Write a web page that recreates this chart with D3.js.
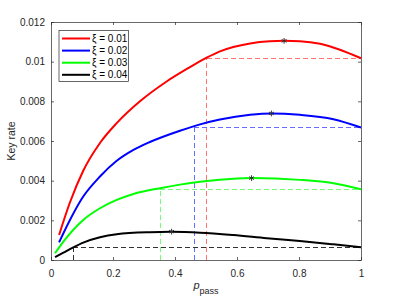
<!DOCTYPE html>
<html>
<head>
<meta charset="utf-8">
<script src="https://cdn.jsdelivr.net/npm/d3@7"></script>
<style>
  body { margin: 0; background: #fff; }
  svg { font-family: "Liberation Sans", Arial, sans-serif; }
  .tick text { font-size: 10px; fill: #262626; }
</style>
</head>
<body>
<svg id="chart" width="399" height="299"></svg>
<script>
// series: [p_pass, key rate]
const red = [[0.026,0.00126],[0.061,0.0029],[0.104,0.0045],[0.158,0.0059],[0.212,0.0069],[0.287,0.008],[0.373,0.009],[0.448,0.00972],[0.502,0.0102],[0.545,0.01052],[0.642,0.01092],[0.706,0.01103],[0.752,0.01105],[0.803,0.01103],[0.868,0.0109],[0.932,0.0106],[1,0.01017]];
const blue = [[0.026,0.00089],[0.04,0.00135],[0.104,0.0032],[0.158,0.00421],[0.212,0.005],[0.266,0.00555],[0.319,0.00595],[0.416,0.00652],[0.481,0.00684],[0.545,0.00708],[0.642,0.00732],[0.711,0.00739],[0.803,0.00732],[0.911,0.0071],[1,0.00668]];
const green = [[0.013,0.00034],[0.04,0.00093],[0.104,0.00202],[0.158,0.00261],[0.212,0.00303],[0.266,0.00333],[0.352,0.00362],[0.416,0.0038],[0.481,0.00395],[0.588,0.0041],[0.647,0.00413],[0.803,0.00404],[0.911,0.00387],[1,0.00357]];
const black = [[0.013,0.00014],[0.04,0.00037],[0.072,0.00064],[0.104,0.00088],[0.158,0.00115],[0.212,0.0013],[0.319,0.0014],[0.387,0.00142],[0.481,0.00138],[0.588,0.00126],[0.696,0.0011],[0.803,0.00096],[0.911,0.00079],[1,0.00064]];

const labels = ["ξ = 0.01", "ξ = 0.02", "ξ = 0.03", "ξ = 0.04"];
const colors = ["#ff0000", "#0000ff", "#00ff00", "#000000"];
const dashColors = ["#ff7373", "#6b6bff", "#73ff73", "#333333"];

// peak markers
const peakX = [0.752, 0.711, 0.647, 0.389];
const peakY = [0.01105, 0.00739, 0.00413, 0.00143];

// dashed guides: vertical at crossX, horizontal at endY
const crossX = [0.502, 0.462, 0.352, 0.072];
const endY = [0.01017, 0.00668, 0.00357, 0.00064];

const xTicks = [0, 0.2, 0.4, 0.6, 0.8, 1];
const yTicks = [0, 0.002, 0.004, 0.006, 0.008, 0.01, 0.012];

const series = [red, blue, green, black];

const margin = {top: 22, left: 51, w: 310, h: 238};
const svg = d3.select("#chart");
const g = svg.append("g").attr("transform", `translate(${margin.left},${margin.top})`);

const x = d3.scaleLinear().domain([0, 1]).range([0, margin.w]);
const y = d3.scaleLinear().domain([0, 0.012]).range([margin.h, 0]);

// axes (ticks inward, box on)
const fmtX = d => d3.format("~g")(d);
const fmtY = d => d === 0 ? "0" : d3.format("~g")(d);
function styleAxis(sel) {
    sel.select(".domain").attr("stroke", "#262626").attr("stroke-width", 0.7);
    sel.selectAll(".tick line").attr("stroke", "#262626").attr("stroke-width", 0.7);
}
g.append("g").attr("transform", `translate(0,${margin.h})`)
    .call(d3.axisBottom(x).tickValues(xTicks).tickFormat(fmtX).tickSizeInner(-3).tickSizeOuter(0).tickPadding(10))
    .call(styleAxis);
g.append("g")
    .call(d3.axisTop(x).tickValues(xTicks).tickFormat("").tickSizeInner(-3).tickSizeOuter(0))
    .call(styleAxis);
g.append("g")
    .call(d3.axisLeft(y).tickValues(yTicks).tickFormat(fmtY).tickSizeInner(-3).tickSizeOuter(0).tickPadding(6))
    .call(styleAxis);
g.append("g").attr("transform", `translate(${margin.w},0)`)
    .call(d3.axisRight(y).tickValues(yTicks).tickFormat("").tickSizeInner(-3).tickSizeOuter(0))
    .call(styleAxis);

// dashed guides
series.forEach((s, i) => {
    const w = 1;
    g.append("line")
        .attr("x1", x(crossX[i])).attr("x2", x(crossX[i]))
        .attr("y1", y(0)).attr("y2", y(endY[i]))
        .attr("stroke", dashColors[i]).attr("stroke-width", w)
        .attr("shape-rendering", "crispEdges")
        .attr("stroke-dasharray", "5,3");
    g.append("line")
        .attr("x1", x(crossX[i])).attr("x2", x(1))
        .attr("y1", y(endY[i])).attr("y2", y(endY[i]))
        .attr("stroke", dashColors[i]).attr("stroke-width", w)
        .attr("shape-rendering", "crispEdges")
        .attr("stroke-dasharray", "5,3");
});

// curves
const line = d3.line().x(d => x(d[0])).y(d => y(d[1])).curve(d3.curveMonotoneX);
series.forEach((s, i) => {
    g.append("path").datum(s)
        .attr("fill", "none")
        .attr("stroke", colors[i])
        .attr("stroke-width", 2)
        .attr("d", line);
});

// peak markers (asterisks)
const star = d3.symbol().type(d3.symbolAsterisk || d3.symbolCross).size(22);
peakX.forEach((px, i) => {
    g.append("path")
        .attr("transform", `translate(${x(px)},${y(peakY[i])})`)
        .attr("d", star())
        .attr("fill", "none")
        .attr("stroke", "#333")
        .attr("stroke-width", 1);
});

// legend
const leg = svg.append("g").attr("transform", "translate(59,30.5)");
leg.append("rect").attr("width", 69.5).attr("height", 51)
    .attr("fill", "#fff").attr("stroke", "#262626").attr("stroke-width", 0.7);
labels.forEach((t, i) => {
    const ly = 8 + i * 12.1;
    leg.append("line").attr("x1", 3).attr("x2", 31).attr("y1", ly).attr("y2", ly)
        .attr("stroke", colors[i]).attr("stroke-width", 2);
    leg.append("text").attr("x", 33).attr("y", ly + 3.6)
        .attr("font-size", 10).attr("fill", "#000").text(t);
});

// axis labels
const xl = svg.append("text").attr("x", 206).attr("y", 289)
    .attr("text-anchor", "middle").attr("fill", "#262626");
xl.append("tspan").attr("font-size", 11).attr("font-style", "italic").text("p");
xl.append("tspan").attr("font-size", 9).attr("dy", 5).text("pass");

svg.append("text")
    .attr("transform", `translate(15,${margin.top + margin.h / 2}) rotate(-90)`)
    .attr("text-anchor", "middle")
    .attr("font-size", 10.5).attr("fill", "#262626")
    .text("Key rate");
</script>
</body>
</html>
